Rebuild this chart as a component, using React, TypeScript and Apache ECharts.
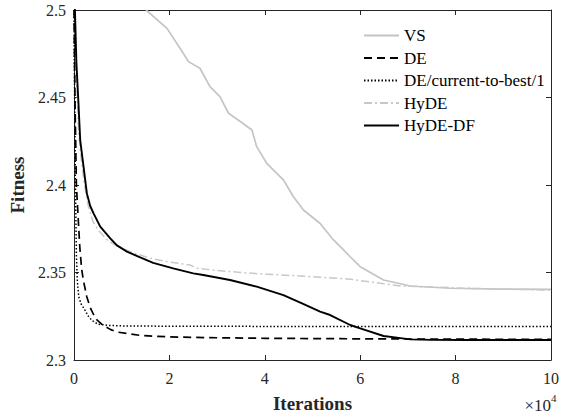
import React, { useEffect, useRef } from "react";
import * as echarts from "echarts";

const SERIES_NAMES = ["VS", "DE", "DE/current-to-best/1", "HyDE", "HyDE-DF"];

const VS_X = [1.51, 1.95, 2.29, 2.4, 2.64, 2.85, 3.06, 3.24, 3.5, 3.73, 3.83, 4.04, 4.39, 4.6, 4.81, 5.16, 5.44, 5.65, 5.79, 6.0, 6.49, 7.05, 7.89, 9, 10];
const VS_Y = [2.5, 2.4895, 2.4753, 2.4705, 2.4667, 2.4562, 2.4505, 2.441, 2.436, 2.4314, 2.4219, 2.4124, 2.4029, 2.3933, 2.3857, 2.378, 2.3686, 2.3629, 2.359, 2.3533, 2.3457, 2.3423, 2.341, 2.3405, 2.3404];

const DE_X = [0, 0.02, 0.05, 0.08, 0.12, 0.16, 0.2, 0.27, 0.34, 0.41, 0.48, 0.6, 0.76, 0.9, 1.1, 1.4, 2, 3, 4, 6, 8, 10];
const DE_Y = [2.5, 2.45, 2.4, 2.385, 2.365, 2.352, 2.345, 2.336, 2.33, 2.326, 2.3229, 2.32, 2.3175, 2.316, 2.3152, 2.314, 2.3132, 2.3127, 2.3124, 2.3121, 2.3119, 2.3118];

const DEC_X = [0, 0.01, 0.02, 0.03, 0.04, 0.05, 0.07, 0.1, 0.15, 0.22, 0.3, 0.38, 0.5, 0.7, 1, 2, 4, 6, 8, 10];
const DEC_Y = [2.5, 2.46, 2.43, 2.4, 2.38, 2.36, 2.345, 2.336, 2.332, 2.329, 2.325, 2.3225, 2.3205, 2.3198, 2.3195, 2.3193, 2.3192, 2.3191, 2.3191, 2.3191];

const HYDE_X = [0, 0.03, 0.06, 0.1, 0.15, 0.22, 0.3, 0.4, 0.5, 0.6, 0.7, 0.85, 1.0, 1.18, 1.6, 2.0, 2.43, 2.57, 3.0, 3.5, 3.97, 4.74, 5.79, 6.84, 8.24, 9, 10];
const HYDE_Y = [2.5, 2.48, 2.455, 2.43, 2.415, 2.4, 2.388, 2.379, 2.3745, 2.3715, 2.3685, 2.366, 2.364, 2.3619, 2.3581, 2.356, 2.3543, 2.3524, 2.3512, 2.35, 2.3491, 2.348, 2.3462, 2.3423, 2.341, 2.3405, 2.34];

const HYDEDF_X = [0, 0.02, 0.05, 0.09, 0.13, 0.2, 0.27, 0.34, 0.41, 0.55, 0.76, 0.9, 1.11, 1.4, 1.66, 2.08, 2.5, 2.71, 3.27, 3.83, 4.39, 4.78, 5.16, 5.37, 5.79, 6.0, 6.49, 7.05, 7.5, 8.24, 9, 10];
const HYDEDF_Y = [2.52, 2.5, 2.47, 2.4486, 2.4257, 2.4105, 2.3952, 2.388, 2.3838, 2.3762, 2.3695, 2.3655, 2.3619, 2.3585, 2.3555, 2.3524, 2.3495, 2.3486, 2.3457, 2.3419, 2.3371, 2.3324, 2.3276, 2.3257, 2.32, 2.3181, 2.3137, 2.3118, 2.3115, 2.3114, 2.3114, 2.3114];

const X_TICKS = { min: 0, max: 10, interval: 2 };
const Y_TICKS = { min: 2.3, max: 2.5, interval: 0.05 };

const FONT = "Liberation Serif";
const AXIS_COLOR = "#262626";

function pairs(xs: number[], ys: number[]) {
  return xs.map((x, i) => [x, ys[i]]);
}

export default function App() {
  const ref = useRef<HTMLDivElement>(null);
  useEffect(() => {
    if (!ref.current) return;
    const chart = echarts.init(ref.current, null, { renderer: "svg" });
    const axisCommon = {
      axisLine: { show: true, onZero: false, lineStyle: { color: AXIS_COLOR, width: 1 } },
      axisTick: { show: true, inside: true, length: 5, lineStyle: { color: AXIS_COLOR } },
      splitLine: { show: false },
    };
    chart.setOption({
      animation: false,
      backgroundColor: "#ffffff",
      textStyle: { fontFamily: FONT },
      grid: { left: 74, right: 21, top: 10, bottom: 58, containLabel: false },
      legend: {
        show: true,
        left: 358,
        top: 22,
        orient: "vertical",
        itemWidth: 35,
        itemHeight: 14,
        itemGap: 5.5,
        data: SERIES_NAMES,
        itemStyle: { opacity: 0 },
        textStyle: { fontFamily: FONT, fontSize: 17, color: "#000" },
        selectedMode: false,
      },
      xAxis: [
        {
          type: "value",
          position: "bottom",
          ...X_TICKS,
          ...axisCommon,
          axisLabel: { color: AXIS_COLOR, fontFamily: FONT, fontSize: 16, margin: 10 },
          name: "Iterations",
          nameLocation: "middle",
          nameGap: 34,
          nameTextStyle: { fontFamily: FONT, fontSize: 19, fontWeight: "bold", color: AXIS_COLOR },
        },
        {
          type: "value",
          position: "top",
          ...X_TICKS,
          ...axisCommon,
          axisLabel: { show: false },
        },
      ],
      yAxis: [
        {
          type: "value",
          position: "left",
          ...Y_TICKS,
          ...axisCommon,
          axisLabel: { color: AXIS_COLOR, fontFamily: FONT, fontSize: 16, margin: 8 },
          name: "Fitness",
          nameLocation: "middle",
          nameGap: 42,
          nameRotate: 90,
          nameTextStyle: { fontFamily: FONT, fontSize: 19, fontWeight: "bold", color: AXIS_COLOR },
        },
        {
          type: "value",
          position: "right",
          ...Y_TICKS,
          ...axisCommon,
          axisLabel: { show: false },
        },
      ],
      series: [
        {
          name: "VS",
          type: "line",
          data: pairs(VS_X, VS_Y),
          symbol: "none",
          lineStyle: { color: "#c4c4c4", width: 1.7, type: "solid" },
          itemStyle: { color: "#c4c4c4", opacity: 0 },
          z: 2,
        },
        {
          name: "DE",
          type: "line",
          data: pairs(DE_X, DE_Y),
          symbol: "none",
          lineStyle: { color: "#000", width: 1.7, type: [8, 5] },
          itemStyle: { color: "#000", opacity: 0 },
          z: 3,
        },
        {
          name: "DE/current-to-best/1",
          type: "line",
          data: pairs(DEC_X, DEC_Y),
          symbol: "none",
          lineStyle: { color: "#000", width: 1.5, type: [1.5, 2] },
          itemStyle: { color: "#000", opacity: 0 },
          z: 3,
        },
        {
          name: "HyDE",
          type: "line",
          data: pairs(HYDE_X, HYDE_Y),
          symbol: "none",
          lineStyle: { color: "#c8c8c8", width: 1.5, type: [8, 3, 2, 3] },
          itemStyle: { color: "#c8c8c8", opacity: 0 },
          z: 2,
        },
        {
          name: "HyDE-DF",
          type: "line",
          data: pairs(HYDEDF_X, HYDEDF_Y),
          symbol: "none",
          lineStyle: { color: "#000", width: 1.9, type: "solid" },
          itemStyle: { color: "#000", opacity: 0 },
          z: 4,
        },
      ],
      graphic: [
        {
          type: "text",
          right: 21,
          top: 397,
          style: { text: "×10", fontFamily: FONT, fontSize: 17, fill: AXIS_COLOR },
        },
        {
          type: "text",
          left: 551,
          top: 392,
          style: { text: "4", fontFamily: FONT, fontSize: 11, fill: AXIS_COLOR },
        },
      ],
    });
    return () => chart.dispose();
  }, []);
  return (
    <div
      ref={ref}
      style={{ position: "fixed", left: 0, top: 0, width: 572, height: 418 }}
    />
  );
}
